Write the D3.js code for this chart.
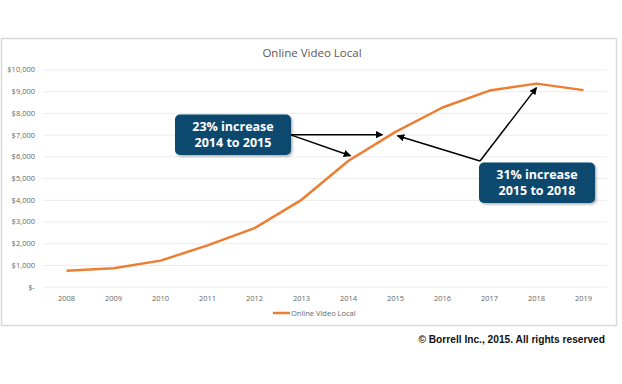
<!DOCTYPE html>
<html>
<head>
<meta charset="utf-8">
<script src="https://cdn.jsdelivr.net/npm/d3@7"></script>
<style>
  body { margin: 0; background: #fff; }
  svg { display: block; }
</style>
</head>
<body>
<svg id="chart" width="622" height="384"></svg>
<script>
let years = ['2008','2009','2010','2011','2012','2013','2014','2015','2016','2017','2018','2019'];
let revenue = [740, 850, 1200, 1900, 2700, 4000, 5800, 7130, 8250, 9030, 9350, 9050];
let yTicks = [0,1000,2000,3000,4000,5000,6000,7000,8000,9000,10000];
let seriesName = 'Online Video Local';
let notes = [
  {lines: ['23% increase', '2014 to 2015'], from: '2014', to: '2015'},
  {lines: ['31% increase', '2015 to 2018'], from: '2015', to: '2018'}
];

let svg = d3.select('#chart');

let margin = {left: 43, right: 15, top: 69.5, bottom: 97.3};
let W = 622, H = 384;

let x = d3.scaleBand().domain(years).range([margin.left, W - margin.right]);
let y = d3.scaleLinear().domain([0, 10000]).range([H - margin.bottom, margin.top]);
let cx = d => x(d) + x.bandwidth()/2;

// outer chart frame
svg.append('rect')
  .attr('x', 1.5).attr('y', 38.5)
  .attr('width', 615).attr('height', 287)
  .style('fill', '#fff')
  .style('stroke', '#d9d9d9')
  .style('stroke-width', 1.5)

svg.append('text')
  .attr('x', 312).attr('y', 57)
  .attr('text-anchor', 'middle')
  .style('font-family', 'Open Sans, sans-serif')
  .style('font-size', '11.5px')
  .style('fill', '#595959')
  .text(seriesName)

// grid + y labels
let yAxis = svg.append('g')
  .attr('transform', `translate(${margin.left},0)`)
  .call(d3.axisLeft(y).tickValues(yTicks)
    .tickSize(-(W - margin.left - margin.right))
    .tickPadding(8)
    .tickFormat(d => d === 0 ? '$-' : '$' + d3.format(',')(d)))
yAxis.select('.domain').remove()
yAxis.selectAll('.tick line').style('stroke', '#ececec').style('stroke-width', 1)
yAxis.selectAll('.tick text')
  .style('font-family', 'Open Sans, sans-serif')
  .style('font-size', '7.5px')
  .style('fill', '#666')

let xAxis = svg.append('g')
  .attr('transform', `translate(0,${y(0)})`)
  .call(d3.axisBottom(x).tickSize(0).tickPadding(9))
xAxis.select('.domain').remove()
xAxis.selectAll('.tick text')
  .style('font-family', 'Open Sans, sans-serif')
  .style('font-size', '7.5px')
  .style('fill', '#666')

// line
let line = d3.line().x((d, i) => cx(years[i])).y(d => y(d));
svg.append('path')
  .datum(revenue)
  .attr('d', line)
  .style('fill', 'none')
  .style('stroke', '#ed7d31')
  .style('stroke-width', 2.5)
  .style('stroke-linejoin', 'round')

// legend
let lg = svg.append('g').attr('transform', 'translate(273,313)');
lg.append('line').attr('x1', 0).attr('x2', 17).attr('y1', 0).attr('y2', 0)
  .style('stroke', '#ed7d31').style('stroke-width', 2.5)
lg.append('text').attr('x', 18).attr('y', 2.6)
  .style('font-family', 'Open Sans, sans-serif')
  .style('font-size', '7.5px')
  .style('fill', '#666')
  .text(seriesName)

// arrows
let defs = svg.append('defs');
defs.append('marker')
  .attr('id', 'arr')
  .attr('viewBox', '0 0 10 10')
  .attr('refX', 9).attr('refY', 5)
  .attr('markerWidth', 5).attr('markerHeight', 5)
  .attr('orient', 'auto')
  .append('path').attr('d', 'M0,0L10,5L0,10z').style('fill', '#000')

let filt = defs.append('filter').attr('id', 'shadow').attr('x', '-10%').attr('y', '-10%').attr('width', '130%').attr('height', '140%');
filt.append('feDropShadow').attr('dx', 1.5).attr('dy', 1.5).attr('stdDeviation', 1.2)
  .attr('flood-color', '#000').attr('flood-opacity', 0.3)

let i14 = years.indexOf('2014'), i15 = years.indexOf('2015'), i18 = years.indexOf('2018');
let arrows = [
  {x1: 290, y1: y(7000), x2: cx('2015') - 13, y2: y(7000)},
  {x1: 290, y1: y(7000), x2: cx('2014') + 2, y2: y(revenue[i14]) - 5},
  {x1: 480, y1: 161, x2: cx('2015') + 2, y2: y(revenue[i15]) + 4},
  {x1: 480, y1: 161, x2: cx('2018'), y2: y(revenue[i18]) + 4}
];
svg.selectAll('.arrows')
  .data(arrows)
  .join('line')
  .attr('class', 'arrows')
  .attr('x1', d => d.x1).attr('y1', d => d.y1)
  .attr('x2', d => d.x2).attr('y2', d => d.y2)
  .style('stroke', '#000')
  .style('stroke-width', 1.5)
  .attr('marker-end', 'url(#arr)')

// callout boxes
let boxPos = [{x: 175, y: 114.5}, {x: 479, y: 162.5}];
let boxes = svg.selectAll('.note')
  .data(notes)
  .join('g')
  .attr('class', 'note')
  .attr('transform', (d, i) => `translate(${boxPos[i].x},${boxPos[i].y})`)
boxes.append('rect')
  .attr('width', 116).attr('height', 40.5)
  .attr('rx', 5)
  .style('fill', '#0b4a6e')
  .attr('filter', 'url(#shadow)')
boxes.each(function(d) {
  d3.select(this).selectAll('text')
    .data(d.lines)
    .join('text')
    .attr('x', 58)
    .attr('y', (t, j) => 16.5 + j * 15.5)
    .attr('text-anchor', 'middle')
    .style('font-family', 'Open Sans, sans-serif')
    .style('font-weight', 'bold')
    .style('font-size', '12.5px')
    .style('fill', '#fff')
    .text(t => t)
})

svg.append('text')
  .attr('x', 605).attr('y', 342.5)
  .attr('text-anchor', 'end')
  .style('font-family', 'Liberation Sans, Arial, sans-serif')
  .style('font-weight', 'bold')
  .style('font-size', '10.2px')
  .style('fill', '#111')
  .text('© Borrell Inc., 2015. All rights reserved')
</script>
</body>
</html>
